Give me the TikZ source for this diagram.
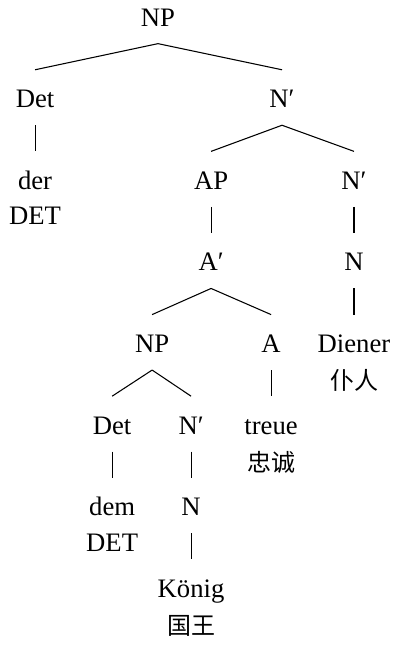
\documentclass[tikz,border=0pt]{standalone}
\usepackage{fontspec}
\setmainfont{Liberation Serif}
\newfontfamily\cjk[Scale=0.9]{Noto Sans CJK SC}
\usetikzlibrary{positioning}

\begin{document}
\begin{tikzpicture}[
        on grid,
        cat/.style   ={inner xsep=1pt, inner ysep=4pt, text height=10pt, text depth=2.4pt},
        branch/.style={line width=0.4pt}
    ]
    \useasboundingbox (-59.25pt,5.96pt) rectangle (88.5pt,-235.9pt);

    \node[cat] (np) {NP};
    \node[cat, below left=30.6pt and 46.1pt of np]   (det)    {Det};
    \node[cat, below right=30.6pt and 46.5pt of np]  (nb)     {N′};
    \node[cat, below=30.6pt of det]                  (der)    {der};
    \node[cat, below=13.3pt of der]                  (derg)   {DET};
    \node[cat, below left=30.6pt and 26.6pt of nb]   (ap)     {AP};
    \node[cat, below right=30.6pt and 27pt of nb]    (nbb)    {N′};
    \node[cat, below=30.6pt of ap]                   (abar)   {A′};
    \node[cat, below=30.6pt of nbb]                  (n)      {N};
    \node[cat, below=30.6pt of n]                    (diener) {Diener};
    \node[cat, below=14pt of diener]                 (dienerg){\cjk 仆人};
    \node[cat, below left=30.6pt and 22.1pt of abar] (npb)    {NP};
    \node[cat, below right=30.6pt and 22.5pt of abar](a)      {A};
    \node[cat, below=30.6pt of a]                    (treue)  {treue};
    \node[cat, below=14pt of treue]                  (treueg) {\cjk 忠诚};
    \node[cat, below left=30.6pt and 15pt of npb]    (detb)   {Det};
    \node[cat, below right=30.6pt and 14.6pt of npb] (nbc)    {N′};
    \node[cat, below=30.6pt of detb]                 (dem)    {dem};
    \node[cat, below=13.3pt of dem]                  (demg)   {DET};
    \node[cat, below=30.6pt of nbc]                  (nc)     {N};
    \node[cat, below=30.6pt of nc]                   (koenig) {König};
    \node[cat, below=14pt of koenig]                 (koenigg){\cjk 国王};

    \draw[branch] (np.south)   -- (det.north);
    \draw[branch] (np.south)   -- (nb.north);
    \draw[branch] (det.south)  -- (der.north);
    \draw[branch] (nb.south)   -- (ap.north);
    \draw[branch] (nb.south)   -- (nbb.north);
    \draw[branch] (ap.south)   -- (abar.north);
    \draw[branch] (nbb.south)  -- (n.north);
    \draw[branch] (n.south)    -- (diener.north);
    \draw[branch] (abar.south) -- (npb.north);
    \draw[branch] (abar.south) -- (a.north);
    \draw[branch] (a.south)    -- (treue.north);
    \draw[branch] (npb.south)  -- (detb.north);
    \draw[branch] (npb.south)  -- (nbc.north);
    \draw[branch] (detb.south) -- (dem.north);
    \draw[branch] (nbc.south)  -- (nc.north);
    \draw[branch] (nc.south)   -- (koenig.north);
\end{tikzpicture}
\end{document}
